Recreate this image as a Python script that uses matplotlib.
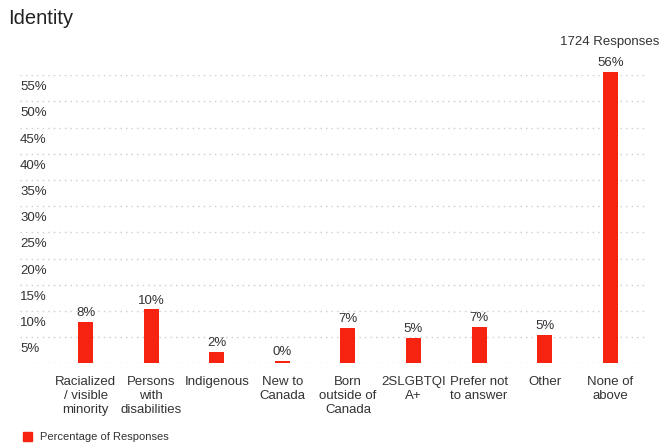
import matplotlib
matplotlib.use("Agg")
import matplotlib.pyplot as plt
from matplotlib.patches import Rectangle
import matplotlib.transforms as mtransforms

plt.rcParams['font.family'] = ['Liberation Sans', 'DejaVu Sans']

# --- data ---
categories = ["Racialized\n/ visible\nminority", "Persons\nwith\ndisabilities", "Indigenous",
              "New to\nCanada", "Born\noutside of\nCanada", "2SLGBTQI\nA+",
              "Prefer not\nto answer", "Other", "None of\nabove"]
values = [7.9, 10.3, 2.2, 0.4, 6.7, 4.8, 7.0, 5.4, 55.6]
value_labels = ["8%", "10%", "2%", "0%", "7%", "5%", "7%", "5%", "56%"]
y_ticks = [5, 10, 15, 20, 25, 30, 35, 40, 45, 50, 55]

RED = '#f5230f'
TXT = '#333333'

fig = plt.figure(figsize=(6.6, 4.46), dpi=100)
ax = fig.add_axes([20 / 660, 1 - 363.3 / 446, 625 / 660, (363.3 - 75.3) / 446])

x = list(range(len(categories)))
ax.bar(x, values, width=0.23, color=RED, zorder=3, clip_on=False)
ax.set_xlim(-1.0, 8.53)
ax.set_ylim(0, 55)

# dotted gridlines incl. baseline
for g in [0] + y_ticks:
    ax.axhline(g, color='#cccccc', linestyle=(0, (1, 3)), linewidth=1.0, zorder=1)

# y labels sit just below their gridline
shift = mtransforms.ScaledTranslation(0, -6 / 100, fig.dpi_scale_trans)
trans = mtransforms.blended_transform_factory(ax.transAxes, ax.transData) + shift
for t in y_ticks:
    ax.text(0.0, t, f"{t}%", transform=trans, ha='left', va='top', fontsize=9.5,
            color=TXT)

for xi, v, lab in zip(x, values, value_labels):
    ax.annotate(lab, (xi, v), xytext=(0, 2), textcoords='offset points',
                ha='center', va='bottom', fontsize=9.5, color=TXT,
                annotation_clip=False)

for xi, c in zip(x, categories):
    ax.annotate(c, (xi, 0), xytext=(0, -9), textcoords='offset points',
                ha='center', va='top', fontsize=9.5, color=TXT, linespacing=1.22)

ax.set_xticks([])
ax.set_yticks([])
for s in ax.spines.values():
    s.set_visible(False)

fig.text(8 / 660, 1 - 18 / 446, "Identity", fontsize=14.5, color='#222222',
         ha='left', va='center')
fig.text(659 / 660, 1 - 42 / 446, "1724 Responses", fontsize=9.5, color=TXT,
         ha='right', va='center')

# legend
fig.patches.append(Rectangle((23 / 660, 1 - 441 / 446), 9 / 660, 9 / 446,
                             transform=fig.transFigure, color=RED, figure=fig))
fig.text(40 / 660, 1 - 437 / 446, "Percentage of Responses", fontsize=8, color=TXT,
         ha='left', va='center')

fig.savefig("out.png", dpi=100, facecolor='white')
